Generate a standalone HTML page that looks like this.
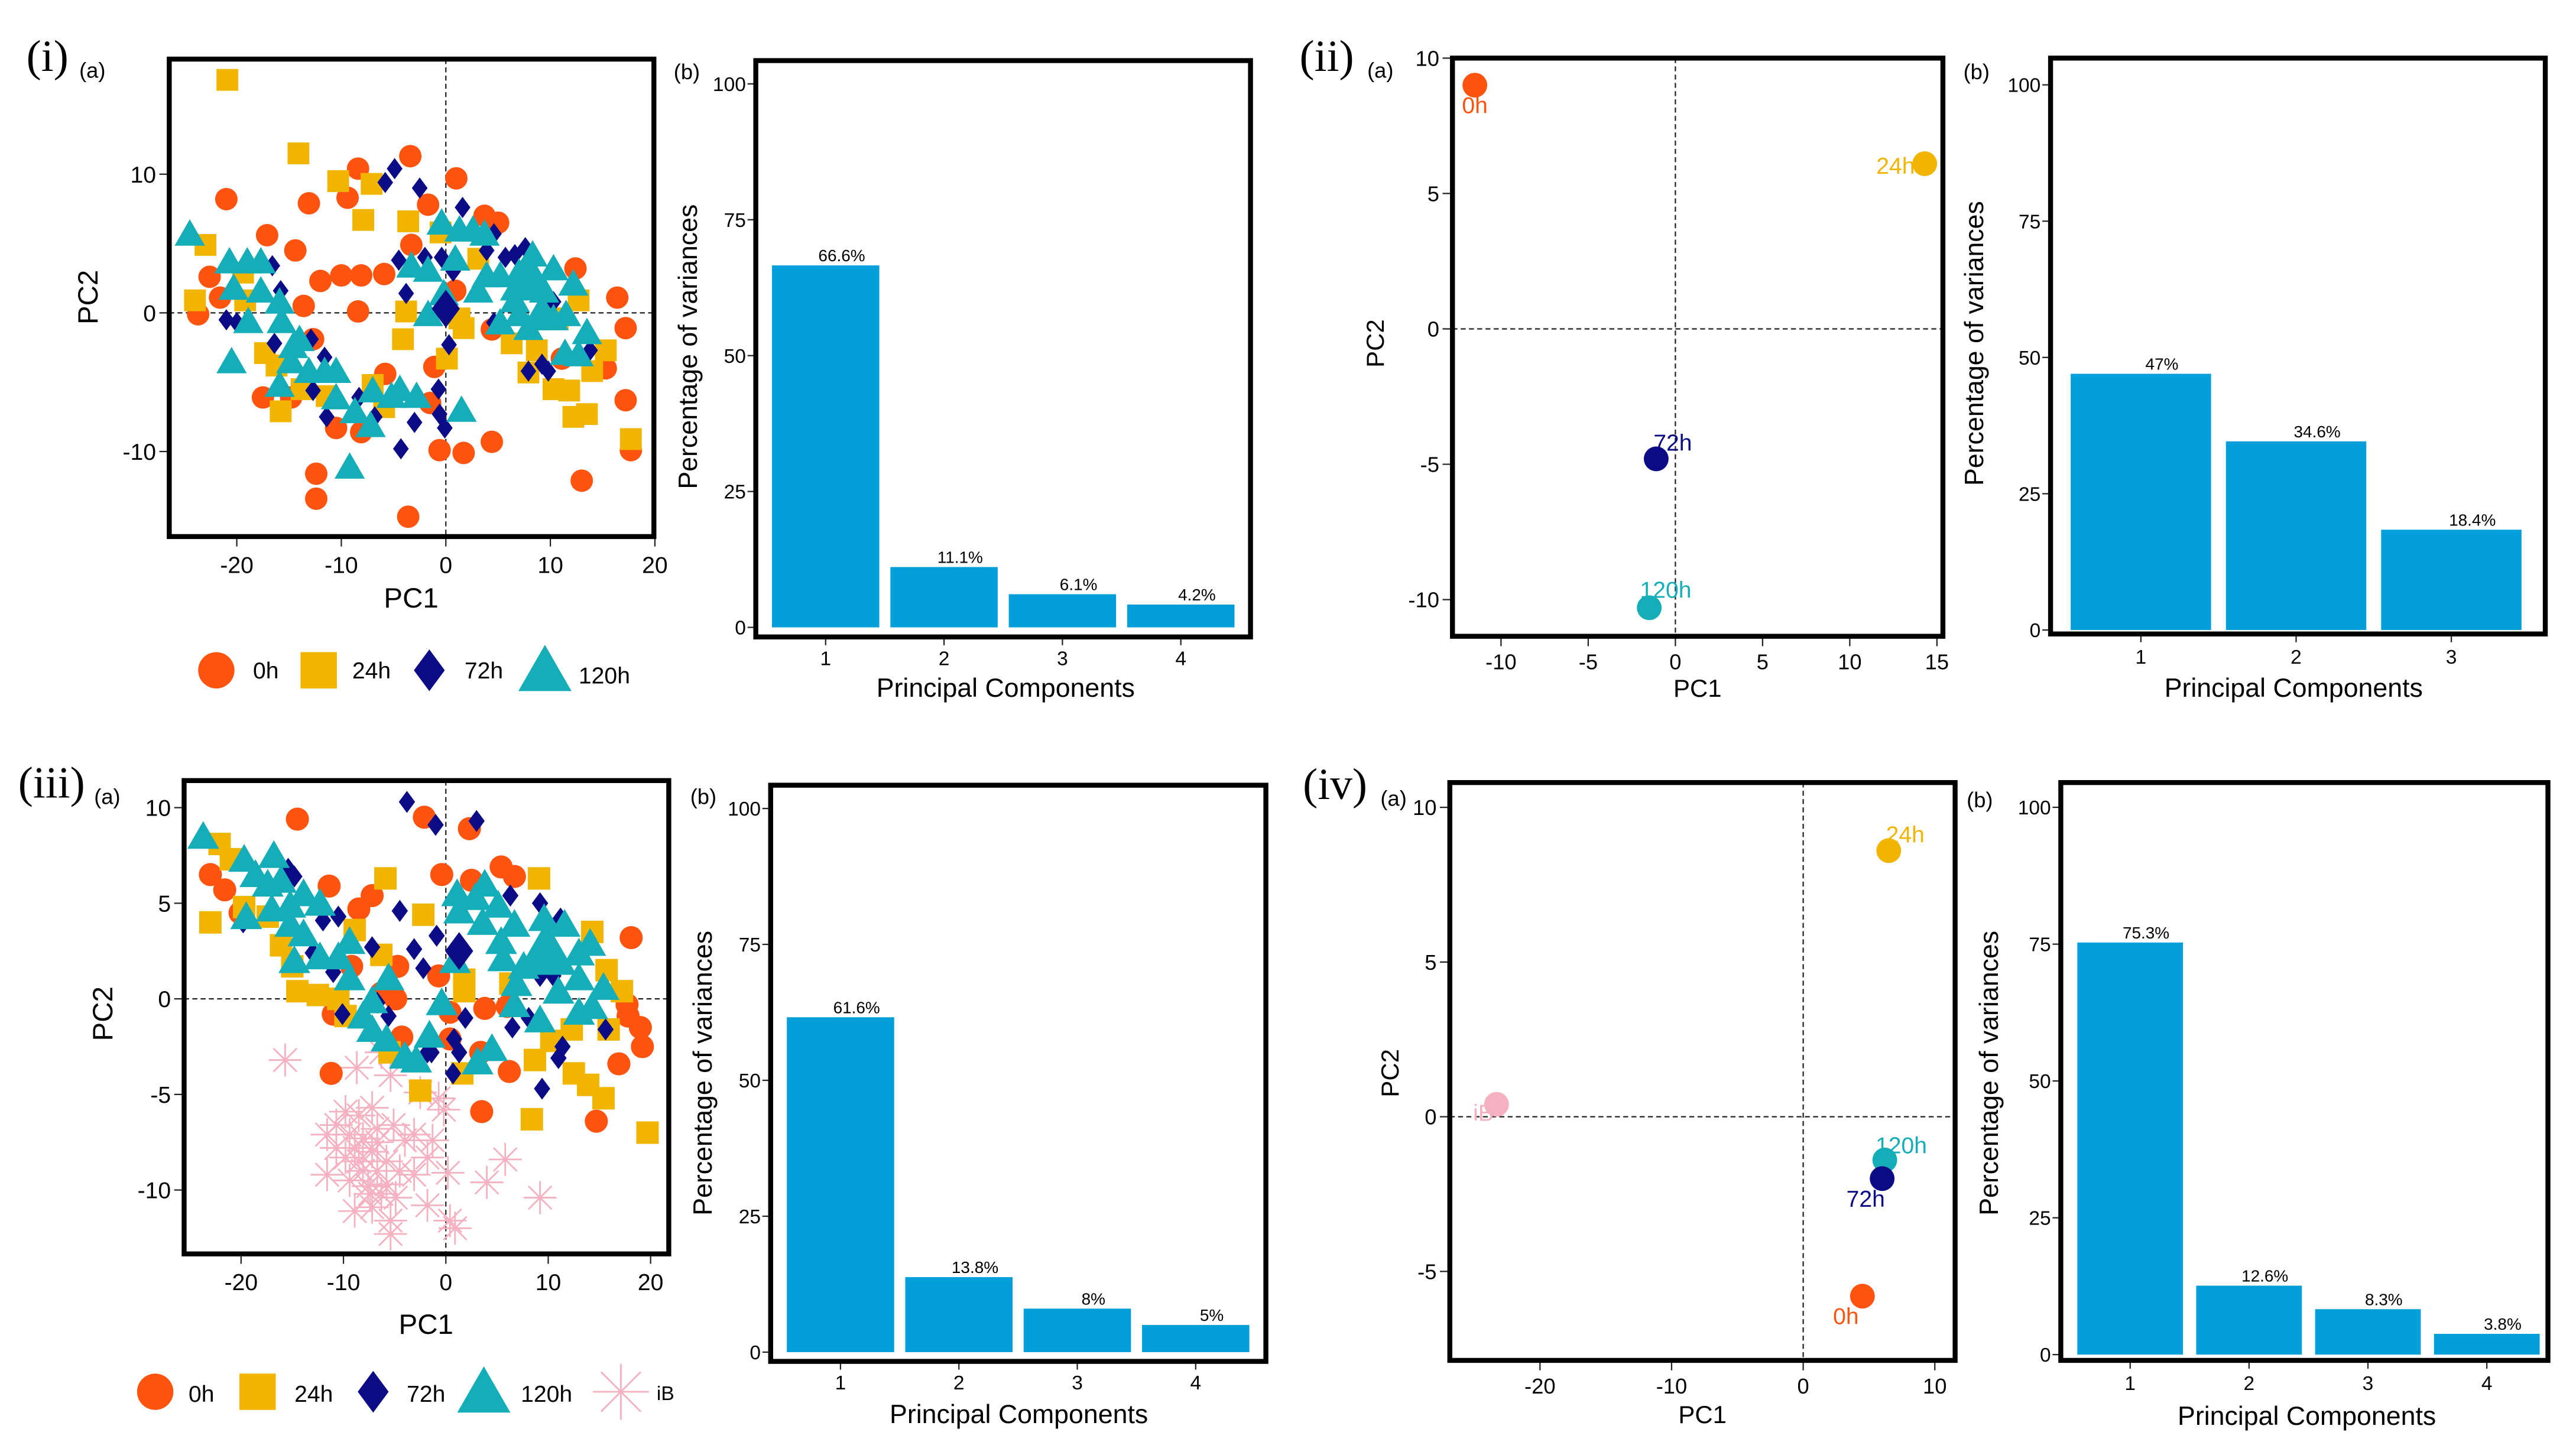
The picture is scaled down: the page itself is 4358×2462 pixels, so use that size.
<!DOCTYPE html>
<html><head><meta charset="utf-8">
<style>
html,body{margin:0;padding:0;background:#fff;}
svg{display:block;}
text{font-family:"Liberation Sans",Arial,sans-serif;}
.serif{font-family:"Liberation Serif","Times New Roman",serif;}
</style></head>
<body>
<svg id="fig" xmlns="http://www.w3.org/2000/svg" width="4358" height="2462" viewBox="0 0 1560 881.3" preserveAspectRatio="none"></svg>
<script>
// ---------------- DATA ----------------
// Panel (i)(a) scores [PC1, PC2]
const i_0h=[[-21,8.2],[-13.1,7.9],[-17.1,5.6],[-14.4,4.5],[-22.6,2.6],[-21.6,1.1],[-23.7,-0.1],[-13.6,0.5],[-12,2.3],[-10,2.7],[-8.1,2.7],[-5.9,2.8],[-8.4,0.1],[-8.4,10.4],[-3.4,11.3],[-9.4,8.3],[-1.7,7.8],[-3.3,4.9],[1,9.7],[3.7,7],[5,6.5],[12.4,3.2],[16.4,1.1],[17.2,-1.1],[17.2,-6.3],[17.7,-9.9],[4.4,-9.3],[1.7,-10.1],[-0.6,-9.9],[-1.1,-3.9],[-1.5,-6.5],[-5.8,-4.4],[-10.5,-8.3],[-8.1,-8.6],[-12.4,-11.6],[-12.4,-13.4],[-3.6,-14.7],[13,-12.1],[-17.5,-6.1],[-14.8,-6.1],[-12.7,-1.9],[15.3,-4],[11.1,-3.3],[4.4,-1.2],[0.9,1.6]];
const i_24h=[[-20.9,16.8],[-14.1,11.5],[-10.3,9.5],[-7.1,9.3],[-7.9,6.7],[-3.6,6.6],[-23,4.9],[-24,0.9],[-19.4,2.9],[-19.2,0.9],[-17.3,-2.9],[-16.2,-3.8],[-15.8,-7.1],[-13.8,-5.5],[-11.4,-6],[-7,-5.2],[-5.9,-6.8],[-3.8,0.1],[-4.1,-1.9],[0.1,-3.3],[1.3,-0.4],[1.7,-1.1],[3.1,3.9],[-0.5,5.8],[6.3,-2.2],[7.9,-4.3],[8.7,-2.7],[10.3,-5.5],[11.8,-5.6],[12.2,-7.5],[13.5,-7.3],[14,-4.2],[15.3,-2.7],[12.7,0.9],[17.7,-9.1],[10.7,-0.4]];
const i_72h=[[-5.8,9.4],[-4.9,10.4],[-2.5,9],[-4.5,3.8],[-3.8,1.4],[-2,4],[-0.4,4],[0.7,3],[1.6,7.6],[4.6,5.7],[3.9,4.5],[5.7,4],[6.6,4.2],[7.6,4.7],[10.3,0.8],[4.6,-0.7],[7.9,-4.2],[9.2,-3.7],[9.8,-4.2],[13.8,-2.7],[-16.6,3.4],[-15.8,1.6],[-21,-0.5],[-20,-0.7],[-16.4,-2.2],[-12.9,-1.9],[-11.6,-3.2],[-12.7,-5.6],[-11.4,-7.5],[-8.3,-6.1],[-6.8,-7.5],[-4.3,-9.8],[-3,-7.9],[-0.7,-5.5],[-0.6,-7.3],[-0.1,-8.3],[0.3,-2.3]];
const i_120h=[[-24.5,5.7],[-20.7,3.7],[-19,3.7],[-17.7,3.7],[-20.3,1.8],[-17.7,1.6],[-15.9,0.8],[-18.9,-0.6],[-15.7,-0.6],[-20.5,-3.5],[-14.6,-2.4],[-14,-1.9],[-14.8,-3.5],[-13.1,-4.2],[-11.6,-4.2],[-10.5,-4.2],[-15.9,-5.2],[-10.5,-6.1],[-8.7,-7.1],[-7.2,-8.1],[-7,-5.6],[-5.2,-6],[-4.4,-5.5],[-2.8,-6],[-9.2,-11.1],[1.5,-7],[-3.3,3.4],[-1.7,3.1],[-1.7,-0.1],[-0.2,1.4],[-0.4,6.5],[0.9,3.9],[1.3,6],[2.6,6],[3.7,5.7],[3.9,2.7],[5.2,2.7],[3.1,1.6],[7,2.9],[8.3,4.2],[7.9,2.2],[9.4,1.6],[10.3,3.2],[12.2,2.1],[5.2,-0.7],[7,-0.1],[8.7,-0.4],[10.3,-0.4],[11.5,-0.1],[13.5,-1.4],[11.4,-2.9],[12.7,-3],[6.6,0.9],[9.2,0.3],[7.9,-1.1]];
const i_cent72=[0,0.3];
const i_cent120=[7.9,2.5];
// Panel (iii)(a)
const iii_0h=[[-14.5,9.4],[-2.1,9.5],[2.3,8.9],[-23,6.5],[-21.6,5.7],[-20.1,4.5],[-11.4,5.9],[-7.2,5.4],[-8.5,4.7],[-0.4,6.5],[2.5,6.2],[5.4,6.9],[6.7,6.4],[18.1,3.2],[-4.7,1.7],[-0.7,1.2],[-6.3,0.3],[-4.9,0],[-11,-0.8],[0.4,-0.7],[3.8,-0.5],[6,-0.4],[17.7,-0.3],[17.8,-0.9],[19,-1.5],[19.2,-2.5],[16.9,-3.4],[6.2,-3.8],[3.4,-2.8],[-4.3,-2],[-11.2,-3.9],[3.5,-5.9],[14.7,-6.4],[-9.2,1.7],[0.4,-2.1]];
const iii_24h=[[-22.1,8.1],[-23,4],[-21,7.3],[-19.7,4.8],[-17.4,4.3],[-16.1,2.8],[-15,1.7],[-14.5,0.4],[-12.5,0.2],[-10.5,0],[-9.8,-0.9],[-8.9,3.6],[-6.3,2.3],[-5.9,6.3],[-2.2,4.4],[-5.5,-2.8],[-2.5,-4.8],[1.8,1],[1.8,0.4],[1.6,-3.9],[9.1,6.3],[8.7,-3.2],[10.3,-2.2],[12.3,-1.6],[12.5,-3.9],[13.9,-4.5],[15.4,-5.2],[8.4,-6.3],[19.7,-7],[14.3,3.5],[15.7,1.5],[17.2,0.4],[15.9,-1.6],[6.3,0.8]];
const iii_72h=[[-3.8,10.3],[-1,9.1],[3,9.3],[-15.4,6.8],[-14.8,6.4],[-4.5,4.6],[-10.5,4.3],[-12,4.1],[-19.8,4],[-13,2.4],[-11,1.4],[-7.2,2.7],[-3.1,2.6],[-2.2,1.6],[-0.9,3.3],[6.3,5.4],[9.2,5],[11.2,4.2],[9.2,1.2],[10.5,1.2],[8.1,-1],[6.5,-1.5],[1.9,-1],[11.4,-2.5],[15.6,-1.6],[11,-3.1],[9.4,-4.7],[-10.1,-0.8],[-5.6,-0.9],[-6.7,-0.2],[-1.8,-2.8],[0.8,-2.1],[1.3,-2.8],[0.7,-3.9],[-1.4,-2.8]];
const iii_120h=[[-23.7,8.5],[-19.7,7.3],[-16.8,7.5],[-18.6,6.5],[-17.4,6],[-16.1,6.2],[-19.5,4.3],[-17,4.7],[-15.2,4.9],[-13.9,5.5],[-12.3,5],[-15.2,3.9],[-13.9,3.4],[-12.3,2.2],[-14.8,2],[-10.5,2.2],[-9.4,3],[-9.4,1.1],[-5.6,1.1],[-7.2,-0.1],[-8.1,-0.9],[-7.2,-1.6],[-5.8,-2.1],[-1.6,-1.9],[-4,-3],[-2.9,-3.2],[3.1,-3.3],[4.5,-2.6],[1.1,5.5],[1.3,4.6],[2.9,5.3],[3.8,6],[5.1,4.9],[3.6,4],[5.4,3],[6.7,3.9],[5.6,2.1],[7.6,1.7],[6.9,0.8],[9.6,4.2],[11.6,3.9],[13,2.4],[14.1,2.9],[10.5,2.2],[13,1.1],[15.4,0.6],[6.7,-0.3],[9.2,-1.1],[11,0.4],[13,-0.7],[14.3,-0.4],[0.9,2],[-0.4,-0.2]];
const iii_iB=[[-15.7,-3.2],[-8.7,-3.6],[-5.4,-4],[-6.3,-2.8],[-2.5,-4.9],[-0.7,-5.2],[-0.2,-5.8],[-9.8,-5.9],[-8.5,-6.1],[-7.2,-5.7],[-11.6,-7.1],[-10.7,-6.6],[-9.4,-7.1],[-8.1,-7.3],[-6.7,-6.8],[-5.1,-6.6],[-3.1,-7.1],[-1.3,-7.4],[-9.8,-8.3],[-8.5,-8.5],[-7.2,-8],[-5.8,-8.5],[-4.5,-9],[-11.6,-9.2],[-9.4,-9.5],[-7.6,-9.8],[-6.3,-10.2],[-4.9,-10.4],[-3.1,-9.2],[0.2,-9.1],[-8.9,-11.1],[-7.2,-10.9],[-5.4,-11.6],[-5.4,-12.3],[-1.8,-10.8],[0.4,-11.6],[0.9,-12],[5.8,-8.4],[4,-9.6],[9.2,-10.4],[-8.1,-9],[-6.7,-9],[-8.9,-7.8],[-6.7,-7.5],[-7.4,-10.2],[-5.8,-9.7],[-10.7,-7.8],[-1.8,-8.3],[-4,-7.4]];
const iii_cent72=[1.3,2.5];
const iii_cent120=[9.8,2.5];
// Panel (ii)(a) group centroids
const ii_groups=["0h","24h","72h","120h"];
const ii_pc1=[-11.5,14.3,-1.1,-1.5];
const ii_pc2=[9.0,6.1,-4.8,-10.3];
// Panel (iv)(a)
const iv_groups=["iB","24h","120h","72h","0h"];
const iv_pc1=[-23.3,6.5,6.2,6.0,4.5];
const iv_pc2=[0.4,8.6,-1.4,-2.0,-5.8];
// Scree bars
const i_pcs=["1","2","3","4"];      const i_var=[66.6,11.1,6.1,4.2];     const i_lab=["66.6%","11.1%","6.1%","4.2%"];
const ii_pcs=["1","2","3"];         const ii_var=[47,34.6,18.4];         const ii_lab=["47%","34.6%","18.4%"];
const iii_pcs=["1","2","3","4"];    const iii_var=[61.6,13.8,8,5];       const iii_lab=["61.6%","13.8%","8%","5%"];
const iv_pcs=["1","2","3","4"];     const iv_var=[75.3,12.6,8.3,3.8];    const iv_lab=["75.3%","12.6%","8.3%","3.8%"];
const varTicks=[0,25,50,75,100];

// ---------------- DRAWING ----------------
const NS="http://www.w3.org/2000/svg";
const svg=document.getElementById('fig');
const COL={"0h":"#ff5410","24h":"#f1b500","72h":"#0b0b86","120h":"#14adb8","iB":"#f5b1c0"};
const BAR="#039fdb";
function el(tag,attrs,parent,txt){const e=document.createElementNS(NS,tag);for(const k in attrs)e.setAttribute(k,attrs[k]);if(txt!==undefined)e.textContent=txt;(parent||svg).appendChild(e);return e;}
function group(name){const g=document.createElementNS(NS,'g');


svg.appendChild(g);return g;}

function marker(g,shape,cx,cy,s,color,name){
  let e;
  if(shape==='circle'){e=el('circle',{cx:cx,cy:cy,r:s,fill:color},g);}
  else if(shape==='square'){e=el('rect',{x:cx-s,y:cy-s,width:2*s,height:2*s,fill:color},g);}
  else if(shape==='diamond'){e=el('polygon',{points:`${cx},${cy-s*1.15} ${cx+s*0.85},${cy} ${cx},${cy+s*1.15} ${cx-s*0.85},${cy}`,fill:color},g);}
  else if(shape==='triangle'){e=el('polygon',{points:`${cx},${cy-s*1.1} ${cx+s*1.15},${cy+s*0.9} ${cx-s*1.15},${cy+s*0.9}`,fill:color},g);}
  else if(shape==='star'){let d='';for(let k=0;k<4;k++){const a=k*Math.PI/4;const dx=Math.cos(a)*s,dy=Math.sin(a)*s;d+=`M${cx-dx},${cy-dy}L${cx+dx},${cy+dy}`;}
    e=el('path',{d:d,stroke:color,'stroke-width':1,fill:'none'},g);}
  
  
  return e;
}

function scatterAxes(g,cfg){
  const [L,T,R,B]=cfg.box;
  const sx=v=>cfg.x0+v*cfg.kx, sy=v=>cfg.y0-v*cfg.ky;
  el('line',{x1:L,x2:R,y1:sy(0),y2:sy(0),stroke:'#222','stroke-width':0.8,'stroke-dasharray':'3,2'},g);
  el('line',{x1:sx(0),x2:sx(0),y1:T,y2:B,stroke:'#222','stroke-width':0.8,'stroke-dasharray':'3,2'},g);
  cfg.xticks.forEach(v=>{el('line',{x1:sx(v),x2:sx(v),y1:B,y2:B+6,stroke:'#222','stroke-width':0.8},g);
    const t=el('text',{x:sx(v),y:B+cfg.xlOff,'text-anchor':'middle','font-size':cfg.fs},g,String(v));
    });
  cfg.yticks.forEach(v=>{el('line',{x1:L-6,x2:L,y1:sy(v),y2:sy(v),stroke:'#222','stroke-width':0.8},g);
    const t=el('text',{x:L-8,y:sy(v)+cfg.fs*0.36,'text-anchor':'end','font-size':cfg.fs},g,String(v));
    });
  const xt=el('text',{x:cfg.xt[0],y:cfg.xt[1],'text-anchor':'middle','font-size':cfg.tfs},g,'PC1');
  
  const yt=el('text',{x:cfg.yt[0],y:cfg.yt[1],'text-anchor':'middle','font-size':cfg.tfs,transform:`rotate(-90 ${cfg.yt[0]} ${cfg.yt[1]})`},g,'PC2');
  
  return {sx,sy};
}
function frame(g,box,w){const [L,T,R,B]=box;const f=el('rect',{x:L,y:T,width:R-L,height:B-T,fill:'none',stroke:'#000','stroke-width':w},g);
}

function bars(name,cfg,cats,vals,labs){
  const g=group(name);
  const [L,T,R,B]=cfg.box;
  const sy=v=>cfg.y0-v*cfg.ky;
  const sx=i=>cfg.c0+i*cfg.step;
  vals.forEach((v,i)=>{const r=el('rect',{x:sx(i)-cfg.w/2,y:sy(v),width:cfg.w,height:sy(0)-sy(v),fill:BAR},g);
    
    
    const t=el('text',{x:sx(i)+cfg.w*0.15,y:sy(v)-2.5,'text-anchor':'middle','font-size':cfg.lfs},g,labs[i]);
    
    el('line',{x1:sx(i),x2:sx(i),y1:B,y2:B+5,stroke:'#222','stroke-width':0.8},g);
    const c=el('text',{x:sx(i),y:B+cfg.xlOff,'text-anchor':'middle','font-size':cfg.fs},g,cats[i]);
    });
  varTicks.forEach(v=>{el('line',{x1:L-5,x2:L,y1:sy(v),y2:sy(v),stroke:'#222','stroke-width':0.8},g);
    const t=el('text',{x:L-6,y:sy(v)+cfg.fs*0.36,'text-anchor':'end','font-size':cfg.fs},g,String(v));
    });
  frame(g,cfg.box,3);
  const xt=el('text',{x:cfg.xt[0],y:cfg.xt[1],'text-anchor':'middle','font-size':cfg.tfs},g,'Principal Components');
  
  const yt=el('text',{x:cfg.yt[0],y:cfg.yt[1],'text-anchor':'middle','font-size':cfg.tfs,transform:`rotate(-90 ${cfg.yt[0]} ${cfg.yt[1]})`},g,'Percentage of variances');
  
  const bl=el('text',{x:cfg.bl[0],y:cfg.bl[1],'font-size':13},g,'(b)');
  
}

function panelLabel(txt,x,y,ax,ay){
  const g=group('panel-label-'+txt.replace(/[()]/g,''));
  el('text',{x:x,y:y,'font-size':27,class:'serif'},g,txt);
  el('text',{x:ax,y:ay,'font-size':13},g,'(a)');
}

// ---- Panel (i)(a)
(function(){
  const g=group('panel-i-scatter');
  const cfg={box:[102.5,35.8,396,325],x0:270,kx:6.33,y0:189.5,ky:8.4,xticks:[-20,-10,0,10,20],yticks:[-10,0,10],fs:14,xlOff:22,tfs:17,xt:[249,368],yt:[59,180]};
  const {sx,sy}=scatterAxes(g,cfg);
  i_0h.forEach(p=>marker(g,'circle',sx(p[0]),sy(p[1]),6.8,COL['0h'],'point-0h'));
  i_24h.forEach(p=>marker(g,'square',sx(p[0]),sy(p[1]),6.6,COL['24h'],'point-24h'));
  i_72h.forEach(p=>marker(g,'diamond',sx(p[0]),sy(p[1]),5.6,COL['72h'],'point-72h'));
  i_120h.forEach(p=>marker(g,'triangle',sx(p[0]),sy(p[1]),8,COL['120h'],'point-120h'));
  marker(g,'diamond',sx(i_cent72[0]),sy(i_cent72[1]),10,COL['72h'],'centroid-72h');
  marker(g,'triangle',sx(i_cent120[0]),sy(i_cent120[1]),15,COL['120h'],'centroid-120h');
  frame(g,cfg.box,3);
  const lg=group('legend-i');
  const items=[['circle','0h',131,161],['square','24h',193,225],['diamond','72h',260,293],['triangle','120h',330,366]];
  items.forEach(it=>{const sz=it[0]==='triangle'?14:11;
    marker(lg,it[0],it[2],406,sz,COL[it[1]],'legend-marker-'+it[1]);
    const t=el('text',{x:it[3],y:it[1]==='120h'?414:411,'text-anchor':'middle','font-size':14},lg,it[1]);
    });
})();
panelLabel('(i)',16,43,48,47);

// ---- Panel (iii)(a)
(function(){
  const g=group('panel-iii-scatter');
  const cfg={box:[111.5,472.8,405,759.5],x0:270,kx:6.2,y0:605,ky:11.58,xticks:[-20,-10,0,10,20],yticks:[-10,-5,0,5,10],fs:14,xlOff:22,tfs:17,xt:[258,808],yt:[68,614]};
  const {sx,sy}=scatterAxes(g,cfg);
  iii_iB.forEach(p=>marker(g,'star',sx(p[0]),sy(p[1]),10,COL['iB'],'point-iB'));
  iii_0h.forEach(p=>marker(g,'circle',sx(p[0]),sy(p[1]),7,COL['0h'],'point-0h'));
  iii_24h.forEach(p=>marker(g,'square',sx(p[0]),sy(p[1]),6.8,COL['24h'],'point-24h'));
  iii_72h.forEach(p=>marker(g,'diamond',sx(p[0]),sy(p[1]),5.8,COL['72h'],'point-72h'));
  iii_120h.forEach(p=>marker(g,'triangle',sx(p[0]),sy(p[1]),8.4,COL['120h'],'point-120h'));
  marker(g,'diamond',sx(iii_cent72[0]),sy(iii_cent72[1]),10,COL['72h'],'centroid-72h');
  marker(g,'triangle',sx(iii_cent120[0]),sy(iii_cent120[1]),16,COL['120h'],'centroid-120h');
  frame(g,cfg.box,3);
  const lg=group('legend-iii');
  const items=[['circle','0h',94,122],['square','24h',156,190],['diamond','72h',226,258],['triangle','120h',293,331],['star','iB',376,403]];
  items.forEach(it=>{const sz=it[0]==='triangle'?14:(it[0]==='star'?17:11);
    marker(lg,it[0],it[2],843,sz,COL[it[1]],'legend-marker-'+it[1]);
    const t=el('text',{x:it[3],y:it[1]==='iB'?848:849,'text-anchor':'middle','font-size':it[1]==='iB'?12:14},lg,it[1]);
    });
})();
panelLabel('(iii)',11,483,57,487);

// ---- Panel (ii)(a)
(function(){
  const g=group('panel-ii-scatter');
  const cfg={box:[879.6,35.2,1176.6,385.4],x0:1014.6,kx:10.56,y0:199.2,ky:16.4,xticks:[-10,-5,0,5,10,15],yticks:[-10,-5,0,5,10],fs:13,xlOff:20,tfs:15,xt:[1028,422],yt:[838,208]};
  const {sx,sy}=scatterAxes(g,cfg);
  const off={"0h":[0,17,'middle'],"24h":[-6,6,'end'],"72h":[10,-5,'middle'],"120h":[10,-6,'middle']};
  ii_groups.forEach((n,i)=>{const cx=sx(ii_pc1[i]),cy=sy(ii_pc2[i]);
    marker(g,'circle',cx,cy,7.5,COL[n],'point-'+n);
    const o=off[n];const t=el('text',{x:cx+o[0],y:cy+o[1],'text-anchor':o[2],'font-size':14,fill:COL[n]},g,n);
    });
  frame(g,cfg.box,3);
})();
panelLabel('(ii)',787,43,828,47);

// ---- Panel (iv)(a)
(function(){
  const g=group('panel-iv-scatter');
  const cfg={box:[878,474,1184,824],x0:1092,kx:7.97,y0:676.4,ky:18.74,xticks:[-20,-10,0,10],yticks:[-5,0,5,10],fs:13,xlOff:20,tfs:15,xt:[1031,862],yt:[847,650]};
  const {sx,sy}=scatterAxes(g,cfg);
  const off={"iB":[-8,10,'middle'],"24h":[10,-5,'middle'],"120h":[10,-4,'middle'],"72h":[-10,17,'middle'],"0h":[-10,17,'middle']};
  iv_groups.forEach((n,i)=>{const cx=sx(iv_pc1[i]),cy=sy(iv_pc2[i]);
    marker(g,'circle',cx,cy,7.5,COL[n],'point-'+n);
    const o=off[n];const t=el('text',{x:cx+o[0],y:cy+o[1],'text-anchor':o[2],'font-size':14,fill:COL[n]},g,n);
    });
  frame(g,cfg.box,3);
})();
panelLabel('(iv)',789,484,836,488);

// ---- Bar panels
bars('panel-i-scree',{box:[457.7,36.7,757.3,385.8],y0:380,ky:3.292,c0:500,step:71.7,w:65,fs:12,lfs:10,xlOff:17,tfs:16,xt:[609,422],yt:[422,210],bl:[408,48]},i_pcs,i_var,i_lab);
bars('panel-ii-scree',{box:[1241.8,35.2,1541.4,384],y0:381.6,ky:3.302,c0:1296.5,step:94,w:85,fs:12,lfs:10,xlOff:18,tfs:16,xt:[1389,422],yt:[1201,208],bl:[1189,48]},ii_pcs,ii_var,ii_lab);
bars('panel-iii-scree',{box:[466.7,475.6,766.6,824.6],y0:819,ky:3.293,c0:509,step:71.7,w:65,fs:12,lfs:10,xlOff:17,tfs:16,xt:[617,862],yt:[431,650],bl:[418,487]},iii_pcs,iii_var,iii_lab);
bars('panel-iv-scree',{box:[1248,474,1543,824],y0:820.5,ky:3.315,c0:1290,step:72,w:64,fs:12,lfs:10,xlOff:18,tfs:16,xt:[1397,863],yt:[1210,650],bl:[1191,489]},iv_pcs,iv_var,iv_lab);
</script>
</body></html>
